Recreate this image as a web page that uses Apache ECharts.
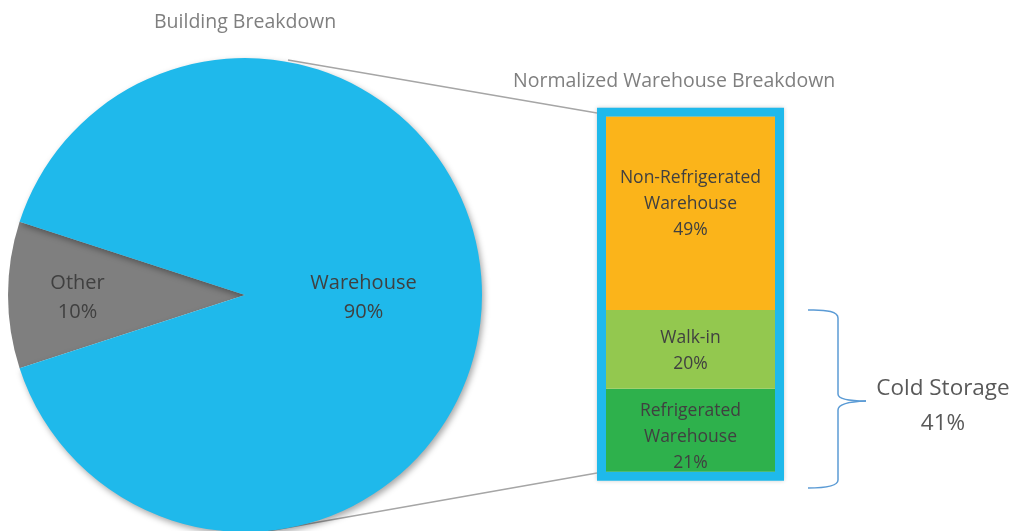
<!DOCTYPE html>
<html>
<head>
<meta charset="utf-8">
<script src="https://cdn.jsdelivr.net/npm/echarts@6/dist/echarts.min.js"></script>
<style>
  html, body { margin: 0; padding: 0; background: #fff; }
  #chartmain { width: 1015px; height: 531px; }
</style>
</head>
<body>
<div id="chartmain"></div>
<script>
// building split (pie)
var buildingNames = ['Other', 'Warehouse'];
var buildingValues = [10, 90];
var buildingColors = ['#7F7F7F', '#1FB9EB'];

// warehouse split (stacked bar, bottom to top)
var warehouseNames = ['Refrigerated\nWarehouse', 'Walk-in', 'Non-Refrigerated\nWarehouse'];
var warehouseValues = [21, 20, 49];
var warehouseColors = ['#2EB14C', '#93C84F', '#FBB41A'];

var coldStorageLabel = 'Cold Storage\n41%';

var font = '"Open Sans", sans-serif';

window.onload = function () {
    var series = [{
        type: 'pie',
        center: [245, 295],
        radius: 237,
        startAngle: 198,
        clockwise: true,
        silent: true,
        data: buildingNames.map(function (n, i) {
            return {
                name: n,
                value: buildingValues[i],
                itemStyle: i === 1 ? {
                    color: buildingColors[i],
                    shadowBlur: 6, shadowColor: 'rgba(0,0,0,0.35)',
                    shadowOffsetX: 2, shadowOffsetY: 3
                } : { color: buildingColors[i] }
            };
        }),
        label: {
            position: 'inside',
            formatter: '{b}\n{d}%',
            color: '#404040',
            fontFamily: font,
            fontSize: 20,
            lineHeight: 29
        },
        labelLayout: function (p) {
            return p.dataIndex === 0 ? { dx: -46, dy: 3 } : { dx: -3, dy: 3 };
        }
    }];

    warehouseNames.forEach(function (n, i) {
        series.push({
            type: 'bar',
            name: n,
            stack: 'wh',
            barWidth: 169,
            silent: true,
            itemStyle: { color: warehouseColors[i] },
            label: {
                show: true,
                position: 'inside',
                formatter: '{a}\n{c}%',
                color: '#404040',
                fontFamily: font,
                fontSize: 17.5,
                lineHeight: 26,
                offset: i === 2 ? [0, -9] : (i === 0 ? [0, 7] : [0, 2])
            },
            data: [warehouseValues[i]]
        });
    });

    var bracketStyle = { fill: null, stroke: '#5B9BD5', lineWidth: 1.5 };

    var option = {
        animation: false,
        title: [{
            text: 'Building Breakdown',
            left: 149, top: 7,
            textStyle: { color: '#7F7F7F', fontFamily: font, fontSize: 19.5, fontWeight: 'normal' }
        }, {
            text: 'Normalized Warehouse Breakdown',
            left: 508, top: 66,
            textStyle: { color: '#7F7F7F', fontFamily: font, fontSize: 19.5, fontWeight: 'normal' }
        }],
        grid: { left: 606, right: 240, top: 116.7, height: 355 },
        xAxis: { type: 'category', data: ['wh'], show: false },
        yAxis: { type: 'value', min: 0, max: 90, show: false },
        graphic: [{
            type: 'rect',
            z: 0,
            shape: { x: 601.5, y: 112.2, width: 178, height: 364 },
            style: { fill: null, stroke: '#1FB9EB', lineWidth: 9,
                     shadowBlur: 4, shadowColor: 'rgba(0,0,0,0.2)' }
        }, {
            type: 'line',
            shape: { x1: 288, y1: 60, x2: 597, y2: 113 },
            style: { stroke: '#A6A6A6', lineWidth: 1.5 }
        }, {
            type: 'line',
            shape: { x1: 268, y1: 531, x2: 597, y2: 473 },
            style: { stroke: '#A6A6A6', lineWidth: 1.5 }
        },
        // curly bracket
        { type: 'bezierCurve', shape: { x1: 808, y1: 310, cpx1: 838, cpy1: 309, x2: 838, y2: 318 }, style: bracketStyle },
        { type: 'line', shape: { x1: 838, y1: 318, x2: 838, y2: 394 }, style: bracketStyle },
        { type: 'bezierCurve', shape: { x1: 838, y1: 394, cpx1: 838, cpy1: 401, x2: 866, y2: 401 }, style: bracketStyle },
        { type: 'bezierCurve', shape: { x1: 866, y1: 401, cpx1: 838, cpy1: 402, x2: 838, y2: 410 }, style: bracketStyle },
        { type: 'line', shape: { x1: 838, y1: 410, x2: 838, y2: 480 }, style: bracketStyle },
        { type: 'bezierCurve', shape: { x1: 838, y1: 480, cpx1: 838, cpy1: 488, x2: 808, y2: 488 }, style: bracketStyle },
        {
            type: 'text',
            x: 943, y: 406,
            style: {
                text: coldStorageLabel,
                fill: '#595959',
                font: '22.5px ' + font,
                lineHeight: 35,
                align: 'center',
                verticalAlign: 'middle'
            }
        }],
        series: series
    };

    var myChart = echarts.init(document.getElementById('chartmain'));
    myChart.setOption(option);
};
</script>
</body>
</html>
